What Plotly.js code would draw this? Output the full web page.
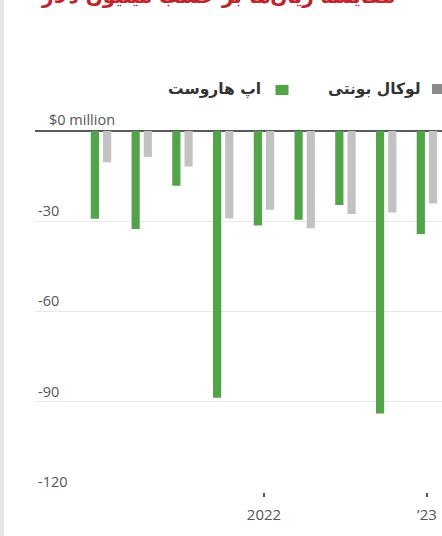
<!DOCTYPE html>
<html>
<head>
<meta charset="utf-8">
<script src="https://cdn.plot.ly/plotly-3.0.1.min.js"></script>
<style>
  html, body { margin: 0; padding: 0; background: #fff; overflow: hidden; }
  #strip { position: absolute; left: 0; top: 0; width: 4px; height: 536px; background: #e6e7ea; z-index: 5; }
  #chart { width: 442px; height: 536px; }
</style>
</head>
<body>
<div id="strip"></div>
<div id="chart"></div>
<script>
// Data
const quarters = ['Q1 2021','Q2 2021','Q3 2021','Q4 2021','Q1 2022','Q2 2022','Q3 2022','Q4 2022','Q1 2023'];
const appHarvest = [-29.2, -32.6, -18.2, -88.7, -31.4, -29.5, -24.6, -93.9, -34.2];
const localBounti = [-10.4, -8.6, -11.8, -29.1, -26.2, -32.3, -27.6, -27.1, -24.1];
const seriesNames = ['اپ هاروست', 'لوکال بونتی'];
const yTickVals = [0, -30, -60, -90, -120];
const yTickText = ['$0 million', '-30', '-60', '-90', '-120'];
const xTickVals = ['Q1 2022', 'Q1 2023'];
const xTickText = ['2022', '\u201923'];
const titleText = 'مقایسه زیان‌ها بر حسب میلیون دلار';

const W = 442, H = 536;
const M = {l: 35, r: 0, t: 131, b: 44};
const pw = W - M.l - M.r, ph = H - M.t - M.b;
const px2x = p => (p - M.l) / pw;
const py2y = p => (H - M.b - p) / ph;

const green = '#51a447', gray = '#c2c2c2';
const faFont = '"DejaVu Sans", "Noto Sans", sans-serif';
const tickFont = {family: '"Open Sans", sans-serif', size: 14.5, color: '#555'};

const traces = [
  {type: 'bar', x: quarters, y: appHarvest, name: seriesNames[0], marker: {color: green}, hoverinfo: 'none'},
  {type: 'bar', x: quarters, y: localBounti, name: seriesNames[1], marker: {color: gray}, hoverinfo: 'none'}
];

const layout = {
  width: W, height: H,
  margin: M,
  paper_bgcolor: '#fff', plot_bgcolor: '#fff',
  showlegend: false,
  barmode: 'group',
  bargap: 0.4,
  bargroupgap: 0.33,
  font: tickFont,
  xaxis: {
    type: 'category',
    range: [-1.62, 8.37],
    tickmode: 'array', tickvals: xTickVals, ticktext: xTickText,
    ticks: 'outside', ticklen: 4, tickwidth: 1.2, tickcolor: '#555',
    ticklabelstandoff: 5,
    showgrid: false, showline: false, zeroline: false,
    tickfont: {family: tickFont.family, size: 15, color: '#555'}
  },
  yaxis: {
    range: [-120, 0],
    tickmode: 'array', tickvals: yTickVals.slice(1), ticktext: yTickText.slice(1),
    ticklabelposition: 'inside top',
    ticks: '',
    showgrid: true, gridcolor: '#e8e8e8', gridwidth: 1,
    zeroline: true, zerolinecolor: '#5a5a5a', zerolinewidth: 1.3,
    showline: false,
    tickfont: tickFont
  },
  shapes: [
    {type: 'rect', xref: 'paper', yref: 'paper', x0: px2x(432), x1: px2x(445), y0: py2y(94), y1: py2y(84), fillcolor: '#8a8a8a', line: {width: 0}},
    {type: 'rect', xref: 'paper', yref: 'paper', x0: px2x(275.5), x1: px2x(288.5), y0: py2y(95), y1: py2y(85), fillcolor: green, line: {width: 0}}
  ],
  annotations: [
    {xref: 'paper', yref: 'y', x: px2x(48), y: yTickVals[0], xanchor: 'left', yanchor: 'bottom', showarrow: false,
     text: yTickText[0], font: tickFont, borderpad: 0, yshift: 1},
    {xref: 'paper', yref: 'paper', x: px2x(423), y: py2y(89), xanchor: 'right', yanchor: 'middle', showarrow: false,
     text: '<b>' + seriesNames[1] + '</b>', font: {family: faFont, size: 15.5, color: '#333'}},
    {xref: 'paper', yref: 'paper', x: px2x(263), y: py2y(89), xanchor: 'right', yanchor: 'middle', showarrow: false,
     text: '<b>' + seriesNames[0] + '</b>', font: {family: faFont, size: 15.5, color: '#333'}},
    {xref: 'paper', yref: 'paper', x: px2x(218), y: py2y(10), xanchor: 'center', yanchor: 'bottom', showarrow: false,
     text: '<b>' + titleText + '</b>', font: {family: faFont, size: 20, color: '#c1232b'}}
  ]
};

Plotly.newPlot('chart', traces, layout, {staticPlot: true, displayModeBar: false});
</script>
</body>
</html>
